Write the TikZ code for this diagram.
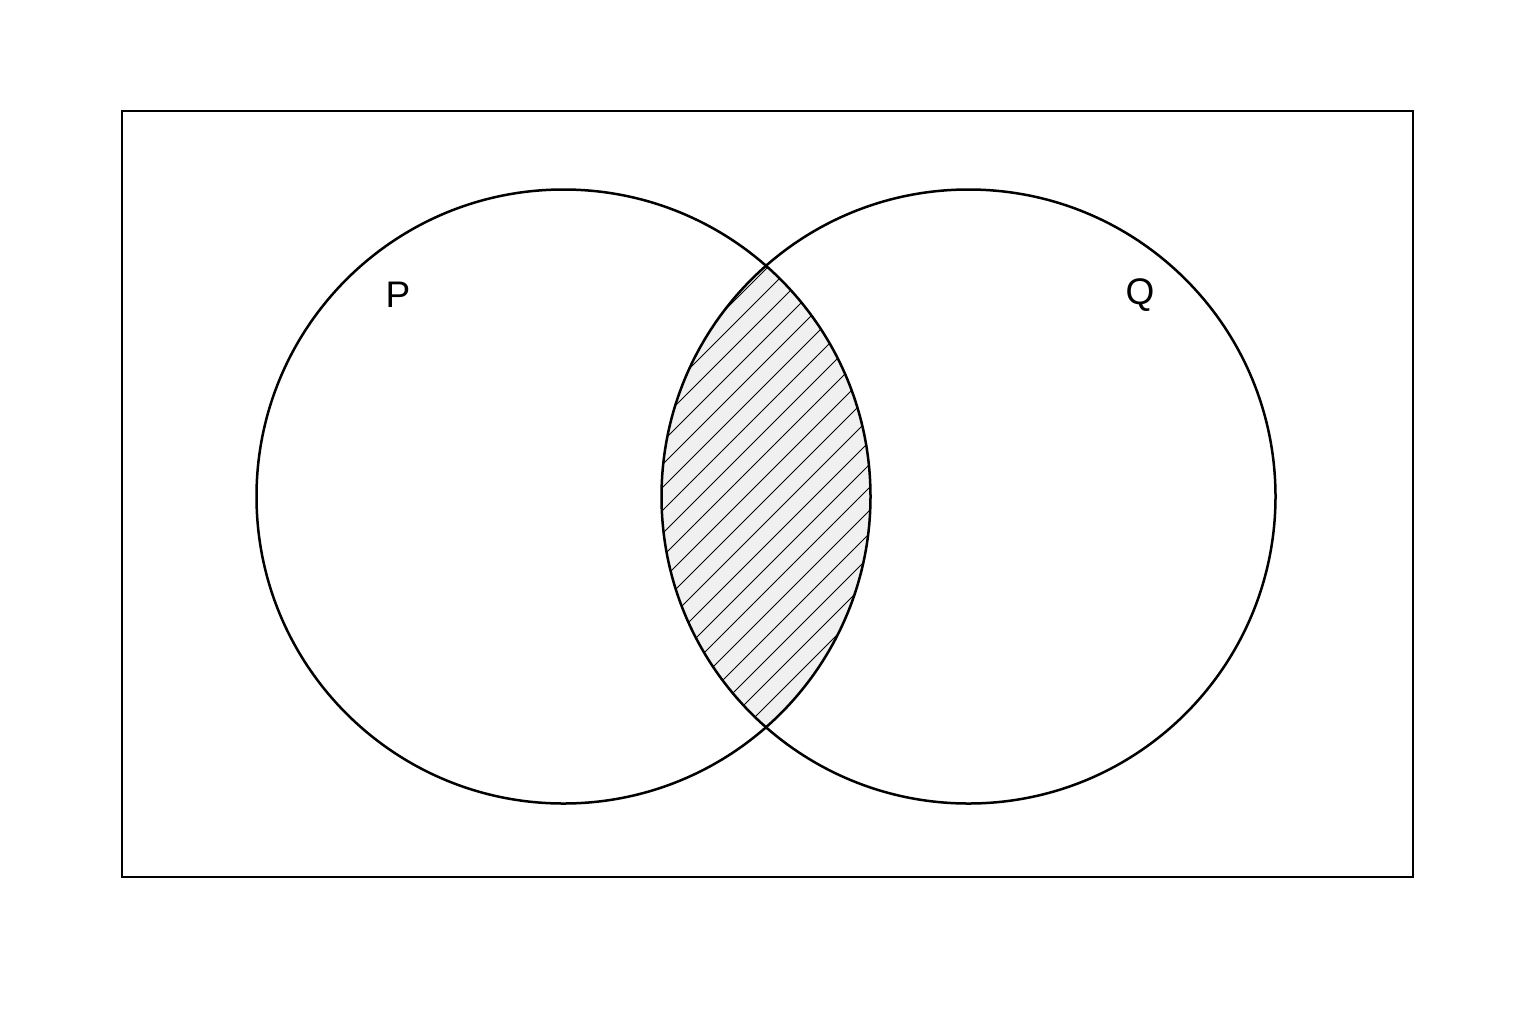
\documentclass[tikz,border=0pt]{standalone}
\usepackage{fontspec}
\setmainfont{Liberation Sans}
\begin{document}
\begin{tikzpicture}[x=0.5pt,y=-0.5pt,
  outline/.style={draw=black,line width=1.25pt},
  hatchline/.style={draw=black,line width=0.45pt},
  setlabel/.style={font=\fontsize{18.5}{20}\selectfont,inner sep=0pt}]
\useasboundingbox (0,0) rectangle (1536,1024);
\fill[white] (0,0) rectangle (1536,1024);
\coordinate (cp) at (563.5,496.5);
\coordinate (cq) at (968.5,496.5);
\begin{scope}
  \clip (cp) circle[radius=153.5pt];
  \clip (cq) circle[radius=153.5pt];
  \fill[black!6] (600,150) rectangle (900,850);
  \foreach \i in {-210,-187,...,1000} {
    \draw[hatchline] (\i,900) -- (\i+800,100);
  }
\end{scope}
\node[draw=black,line width=1.25pt,minimum width=645.5pt,minimum height=383pt,inner sep=0pt] (univ) at (767.5,494) {};
\node[outline,circle,minimum size=307pt,inner sep=0pt] (P) at (cp) {};
\node[outline,circle,minimum size=307pt,inner sep=0pt] (Q) at (cq) {};
\node[setlabel] (lp) at (398,295) {P};
\node[setlabel] (lq) at (1140,295) {Q};
\end{tikzpicture}
\end{document}
